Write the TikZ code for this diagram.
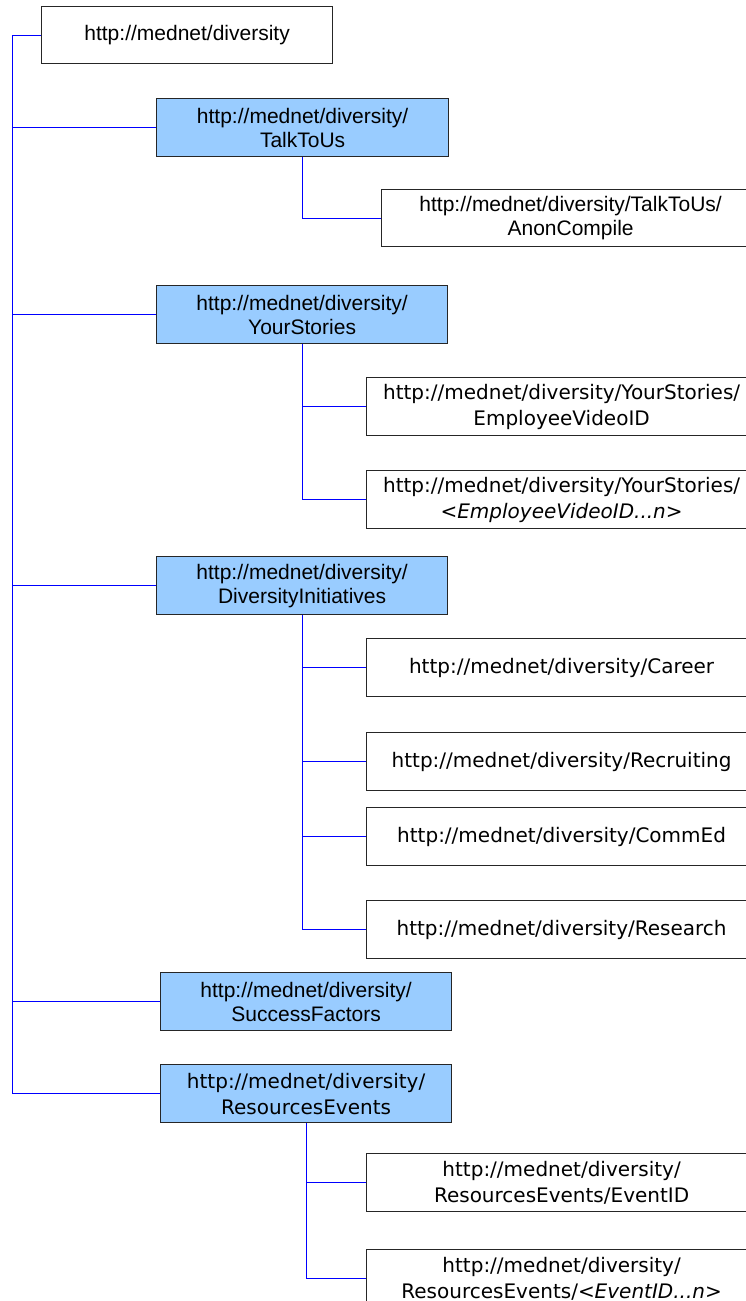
\documentclass[tikz,border=0pt]{standalone}
\usepackage{fontspec}
\setmainfont{Liberation Sans}
\newfontfamily\tahfont{DejaVu Sans}
\usepackage{tikz}

\begin{document}
\begin{tikzpicture}
        [
            x = 1pt, y = -1pt,
            box/.style = {draw = black!85, line width = 1.2pt, rectangle, anchor = north west,
                inner sep = 0pt, align = center, minimum height = 58pt,
                font = \fontsize{21}{24}\selectfont},
            section/.style = {box, fill = {rgb,255:red,153;green,204;blue,255}, minimum width = 292pt},
            page/.style = {box, minimum width = 390pt},
            wide/.style = {font = \tahfont\fontsize{20}{26}\selectfont},
            link/.style = {blue, line width = 1pt}
        ]
        \useasboundingbox (0,0) rectangle (745,1301);

        \node[box, minimum width = 291pt, minimum height = 57pt] (root) at (41,6) {http://mednet/diversity};

        \node[section] (talk) at (156,98) {http://mednet/diversity/\\TalkToUs};
        \node[box, minimum width = 378pt, minimum height = 57pt] (anon) at (381,189) {http://mednet/diversity/TalkToUs/\\AnonCompile};

        \node[section, minimum width = 291pt] (stories) at (156,285) {http://mednet/diversity/\\YourStories};
        \node[page, wide] (vid) at (366,377) {http://mednet/diversity/YourStories/\\EmployeeVideoID};
        \node[page, wide] (vidn) at (366,470) {http://mednet/diversity/YourStories/\\<\textit{EmployeeVideoID...n}>};

        \node[section, minimum width = 291pt] (init) at (156,556) {http://mednet/diversity/\\DiversityInitiatives};
        \node[page, wide] (career) at (366,638) {http://mednet/diversity/Career};
        \node[page, wide] (recruit) at (366,732) {http://mednet/diversity/Recruiting};
        \node[page, wide] (commed) at (366,807) {http://mednet/diversity/CommEd};
        \node[page, wide] (research) at (366,900) {http://mednet/diversity/Research};

        \node[section, minimum width = 291pt] (success) at (160,972) {http://mednet/diversity/\\SuccessFactors};

        \node[section, wide, minimum width = 291pt] (events) at (160,1064) {http://mednet/diversity/\\ResourcesEvents};
        \node[page, wide] (eventid) at (366,1153) {http://mednet/diversity/\\ResourcesEvents/EventID};
        \node[page, wide] (eventn) at (366,1249) {http://mednet/diversity/\\ResourcesEvents/<\textit{EventID...n}>};

        % trunk on the left
        \coordinate (trunk) at (12,0);
        \draw[link] (root.west) -| (trunk |- events.west) -- (events.west);
        \foreach \s in {talk, stories, init, success}
            \draw[link] (trunk |- \s.west) -- (\s.west);

        % second level
        \draw[link] (talk.south) |- (anon.west);
        \foreach \p in {vid, vidn}
            \draw[link] (stories.south) |- (\p.west);
        \foreach \p in {career, recruit, commed, research}
            \draw[link] (init.south) |- (\p.west);
        \foreach \p in {eventid, eventn}
            \draw[link] (events.south) |- (\p.west);
    \end{tikzpicture}
\end{document}
